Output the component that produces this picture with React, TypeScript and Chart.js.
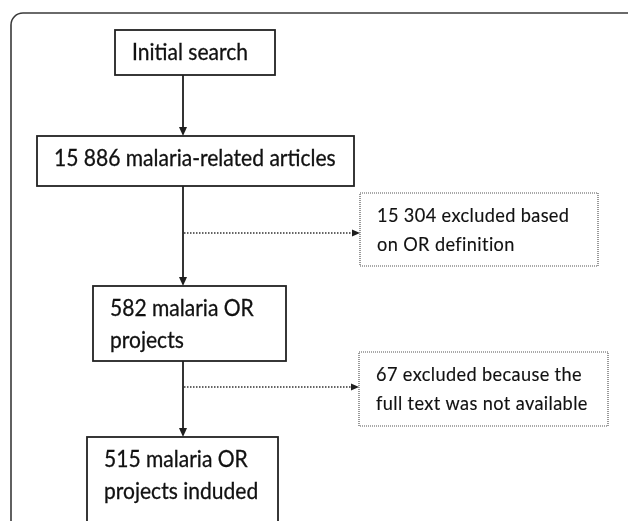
import React, { useEffect, useRef } from "react";
import { Chart, registerables } from "chart.js";

Chart.register(...registerables);

// ---- data ----
const stageNames = [
  "Initial search",
  "malaria-related articles",
  "malaria OR\nprojects",
  "malaria OR\nprojects induded",
];
const stageCounts: (number | null)[] = [null, 15886, 582, 515];
const excludedCounts = [15304, 67];
const excludedReasons = [
  "excluded based\non OR definition",
  "excluded because the\nfull text was not available",
];

// ---- layout (in scale units, 0..628 by 0..521) ----
const STAGE_BOXES = [
  { x0: 115, x1: 275, y0: 30, y1: 75 },
  { x0: 37, x1: 354, y0: 136, y1: 186 },
  { x0: 93, x1: 286, y0: 286, y1: 361 },
  { x0: 87, x1: 278, y0: 437, y1: 570 },
];
const EXCL_BOXES = [
  { x0: 360, x1: 598, y0: 193, y1: 266 },
  { x0: 359, x1: 608, y0: 352, y1: 426 },
];
const SPINE_X = 183;
const BRANCH_Y = [233, 387];
const FRAME = { x0: 11, y0: 13, x1: 640, y1: 580, r: 12 };

const FONT = "Lato, 'Open Sans', sans-serif";

function fmt(n: number) {
  return String(n).replace(/\B(?=(\d{3})+(?!\d))/g, " ");
}

function stageLines(i: number): string[] {
  const c = stageCounts[i];
  const t = c == null ? stageNames[i] : fmt(c) + " " + stageNames[i];
  return t.split("\n");
}
function exclLines(i: number): string[] {
  return (fmt(excludedCounts[i]) + " " + excludedReasons[i]).split("\n");
}

const flowPlugin = {
  id: "flowchart",
  afterDraw(chart: any) {
    const ctx: CanvasRenderingContext2D = chart.ctx;
    const xs = chart.scales.x;
    const ys = chart.scales.y;
    const X = (v: number) => xs.getPixelForValue(v);
    const Y = (v: number) => ys.getPixelForValue(v);

    ctx.save();
    // condense factor so Lato matches the narrow original face
    ctx.font = `22.6px ${FONT}`;
    const sx = 116 / ctx.measureText("Initial search").width;

    // outer frame
    ctx.strokeStyle = "#3a3a3a";
    ctx.lineWidth = 1.6;
    ctx.setLineDash([]);
    ctx.beginPath();
    ctx.roundRect(X(FRAME.x0), Y(FRAME.y0), X(FRAME.x1) - X(FRAME.x0), Y(FRAME.y1) - Y(FRAME.y0), FRAME.r);
    ctx.stroke();

    const arrowDown = (x: number, y: number) => {
      ctx.beginPath();
      ctx.moveTo(x, y);
      ctx.lineTo(x - 4, y - 9);
      ctx.lineTo(x + 4, y - 9);
      ctx.closePath();
      ctx.fill();
    };
    const arrowRight = (x: number, y: number) => {
      ctx.beginPath();
      ctx.moveTo(x, y);
      ctx.lineTo(x - 8, y - 3.5);
      ctx.lineTo(x - 8, y + 3.5);
      ctx.closePath();
      ctx.fill();
    };

    // spine
    ctx.strokeStyle = "#1e1e1e";
    ctx.fillStyle = "#1e1e1e";
    ctx.lineWidth = 1.8;
    for (let i = 0; i < STAGE_BOXES.length - 1; i++) {
      const a = STAGE_BOXES[i];
      const b = STAGE_BOXES[i + 1];
      ctx.beginPath();
      ctx.moveTo(X(SPINE_X), Y(a.y1));
      ctx.lineTo(X(SPINE_X), Y(b.y0) - 7);
      ctx.stroke();
      arrowDown(X(SPINE_X), Y(b.y0));
    }

    // branches (dotted)
    for (let j = 0; j < EXCL_BOXES.length; j++) {
      const bx = EXCL_BOXES[j];
      ctx.setLineDash([1.5, 1.5]);
      ctx.lineWidth = 1.5;
      ctx.strokeStyle = "#333";
      ctx.beginPath();
      ctx.moveTo(X(SPINE_X) + 1, Y(BRANCH_Y[j]));
      ctx.lineTo(X(bx.x0) - 7, Y(BRANCH_Y[j]));
      ctx.stroke();
      ctx.setLineDash([]);
      ctx.fillStyle = "#1e1e1e";
      arrowRight(X(bx.x0), Y(BRANCH_Y[j]));
    }

    const drawText = (lines: string[], x: number, y: number, size: number, lh: number, spacing: string, weight: number) => {
      ctx.fillStyle = "#111";
      ctx.strokeStyle = "#111";
      ctx.lineWidth = weight;
      ctx.setLineDash([]);
      ctx.font = `${size}px ${FONT}`;
      (ctx as any).letterSpacing = spacing;
      ctx.textBaseline = "alphabetic";
      ctx.textAlign = "left";
      lines.forEach((l, k) => {
        ctx.save();
        ctx.translate(x, y + k * lh);
        ctx.scale(sx, 1);
        ctx.fillText(l, 0, 0);
        if (weight > 0) ctx.strokeText(l, 0, 0);
        ctx.restore();
      });
      (ctx as any).letterSpacing = "0px";
    };

    // stage boxes
    STAGE_BOXES.forEach((b, i) => {
      ctx.setLineDash([]);
      ctx.strokeStyle = "#222";
      ctx.lineWidth = 1.8;
      ctx.strokeRect(X(b.x0), Y(b.y0), X(b.x1) - X(b.x0), Y(b.y1) - Y(b.y0));
      drawText(stageLines(i), X(b.x0) + 17, Y(b.y0) + 30, 22.6, 32, "0px", 0.3);
    });

    // exclusion boxes
    EXCL_BOXES.forEach((b, j) => {
      ctx.setLineDash([1, 1]);
      ctx.strokeStyle = "#555";
      ctx.lineWidth = 1.2;
      ctx.strokeRect(X(b.x0), Y(b.y0), X(b.x1) - X(b.x0), Y(b.y1) - Y(b.y0));
      ctx.setLineDash([]);
      drawText(exclLines(j), X(b.x0) + 17, Y(b.y0) + 29, 19.5, 29, "0.4px", 0.15);
    });

    ctx.restore();
  },
};

export default function App() {
  const ref = useRef<HTMLCanvasElement | null>(null);
  useEffect(() => {
    if (!ref.current) return;
    const chart = new Chart(ref.current, {
      type: "scatter",
      data: { datasets: [] },
      options: {
        animation: false,
        responsive: false,
        maintainAspectRatio: false,
        devicePixelRatio: 1,
        layout: { padding: 0 },
        plugins: { legend: { display: false }, tooltip: { enabled: false } },
        scales: {
          x: { type: "linear", min: 0, max: 628, display: false },
          y: { type: "linear", min: 0, max: 521, reverse: true, display: false },
        },
      },
      plugins: [flowPlugin],
    });
    return () => chart.destroy();
  }, []);
  return (
    <div style={{ position: "fixed", left: 0, top: 0, width: 628, height: 521, background: "#fff" }}>
      <canvas ref={ref} width={628} height={521} style={{ display: "block" }} />
    </div>
  );
}
